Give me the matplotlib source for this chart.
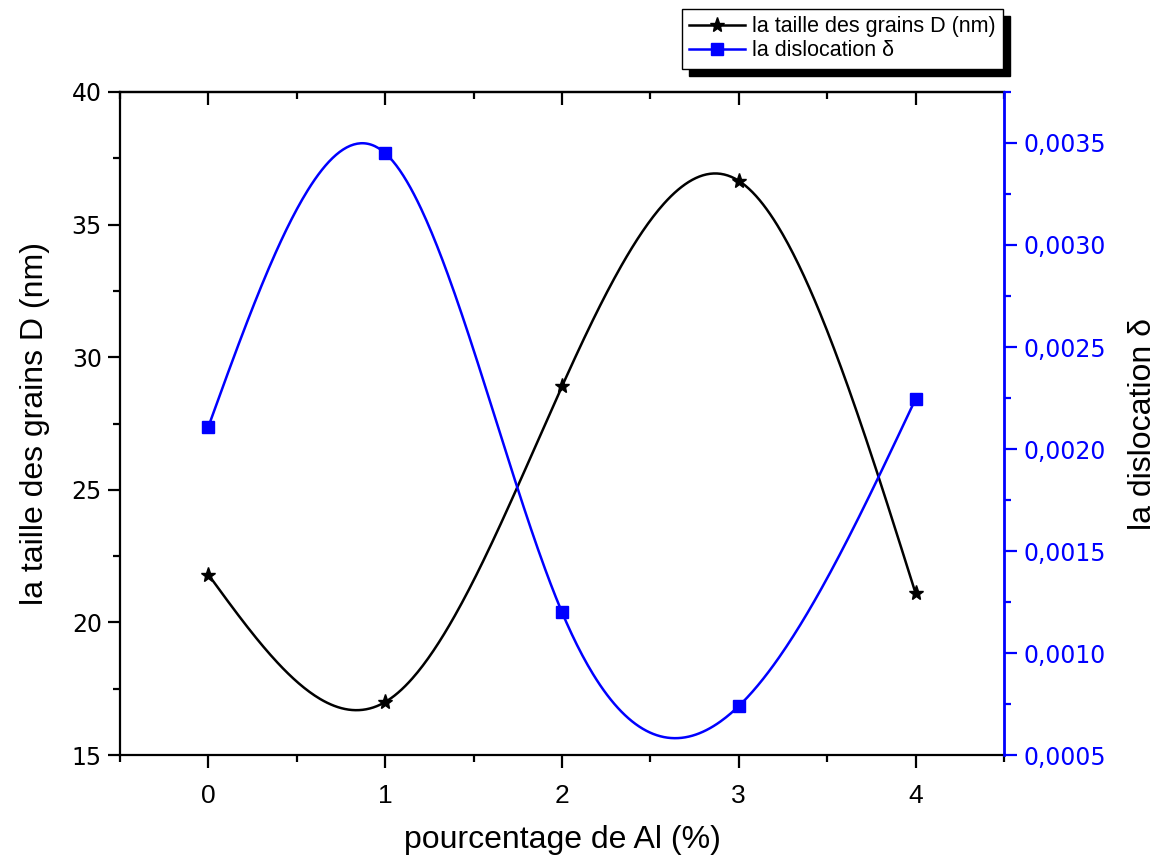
import matplotlib
matplotlib.use("Agg")
import matplotlib.pyplot as plt
import numpy as np
from matplotlib.ticker import MultipleLocator, FuncFormatter

plt.rcParams["font.family"] = ["Liberation Sans", "DejaVu Sans"]

al_percent = [0, 1, 2, 3, 4]
grain_size = [21.8, 17.0, 28.9, 36.65, 21.1]
dislocation = [0.00211, 0.00345, 0.00120, 0.00074, 0.002245]

blue = "#0000ff"


def natural_spline(x, y, xs):
    x = np.asarray(x, float)
    y = np.asarray(y, float)
    n = len(x)
    h = np.diff(x)
    A = np.zeros((n, n))
    b = np.zeros(n)
    A[0, 0] = 1
    A[-1, -1] = 1
    for i in range(1, n - 1):
        A[i, i - 1] = h[i - 1]
        A[i, i] = 2 * (h[i - 1] + h[i])
        A[i, i + 1] = h[i]
        b[i] = 6 * ((y[i + 1] - y[i]) / h[i] - (y[i] - y[i - 1]) / h[i - 1])
    M = np.linalg.solve(A, b)
    idx = np.clip(np.searchsorted(x, xs) - 1, 0, n - 2)
    x0, x1 = x[idx], x[idx + 1]
    hh = x1 - x0
    t0 = x1 - xs
    t1 = xs - x0
    return (M[idx] * t0**3 / (6 * hh) + M[idx + 1] * t1**3 / (6 * hh)
            + (y[idx] / hh - M[idx] * hh / 6) * t0
            + (y[idx + 1] / hh - M[idx + 1] * hh / 6) * t1)


xs = np.linspace(al_percent[0], al_percent[-1], 400)

fig = plt.figure(figsize=(11.62, 8.58), dpi=100)
ax = fig.add_axes([0.1033, 0.12, 0.7607, 0.7728])
ax2 = ax.twinx()

ax.plot(xs, natural_spline(al_percent, grain_size, xs), color="k", lw=1.8)
ax.plot(al_percent, grain_size, ls="none", marker="*", ms=11, color="k")
ax2.plot(xs, natural_spline(al_percent, dislocation, xs), color=blue, lw=1.8)
ax2.plot(al_percent, dislocation, ls="none", marker="s", ms=8, color=blue)

# legend proxies
h1, = ax.plot([], [], color="k", lw=1.8, marker="*", ms=11)
h2, = ax.plot([], [], color=blue, lw=1.8, marker="s", ms=8)

ax.set_xlim(-0.5, 4.5)
ax.set_ylim(15, 40)
ax2.set_ylim(0.0005, 0.00375)

ax.xaxis.set_major_locator(MultipleLocator(1))
ax.xaxis.set_minor_locator(MultipleLocator(0.5))
ax.yaxis.set_major_locator(MultipleLocator(5))
ax.yaxis.set_minor_locator(MultipleLocator(2.5))
ax2.yaxis.set_major_locator(MultipleLocator(0.0005))
ax2.yaxis.set_minor_locator(MultipleLocator(0.00025))
ax2.yaxis.set_major_formatter(FuncFormatter(lambda v, p: f"{v:.4f}".replace(".", ",")))

for s in ["left", "bottom", "top"]:
    ax.spines[s].set_linewidth(1.6)
ax2.spines["right"].set_color(blue)
ax2.spines["right"].set_linewidth(2)
ax2.spines["left"].set_visible(False)
ax2.spines["top"].set_visible(False)
ax2.spines["bottom"].set_visible(False)

ax.tick_params(axis="both", which="major", direction="out", length=9, width=1.6)
ax.tick_params(axis="both", which="minor", direction="out", length=5, width=1.6)
ax.tick_params(axis="x", labelsize=19, pad=12)
ax.tick_params(axis="y", labelsize=17, pad=4, labelfontfamily="DejaVu Sans")

ax2.tick_params(axis="y", which="major", direction="out", length=9, width=1.6,
                color=blue, labelcolor=blue, labelsize=17, pad=5,
                labelfontfamily="DejaVu Sans")
ax2.tick_params(axis="y", which="minor", direction="out", length=5, width=1.6, color=blue)

top = ax.secondary_xaxis("top")
top.xaxis.set_major_locator(MultipleLocator(1))
top.xaxis.set_minor_locator(MultipleLocator(0.5))
top.tick_params(which="major", direction="in", length=9, width=1.6, labeltop=False)
top.tick_params(which="minor", direction="in", length=5, width=1.6)
top.spines["top"].set_linewidth(1.6)

ax.set_xlabel("pourcentage de Al (%)", fontsize=23, labelpad=12)
ax.set_ylabel("la taille des grains D (nm)", fontsize=23, labelpad=16)
ax2.set_ylabel("la dislocation δ", fontsize=23, labelpad=16)

leg = fig.legend([h1, h2], ["la taille des grains D (nm)", "la dislocation δ"],
                 loc="upper right", bbox_to_anchor=(0.863, 0.99), frameon=True,
                 fancybox=False, shadow={"color": "k", "alpha": 1, "ox": 5, "oy": -5},
                 prop={"size": 15.5}, handlelength=2.6,
                 borderpad=0.35, labelspacing=0.15, handletextpad=0.3, borderaxespad=0)
leg.get_frame().set_edgecolor("k")
leg.get_frame().set_linewidth(1)

fig.savefig("out.png", dpi=100)
